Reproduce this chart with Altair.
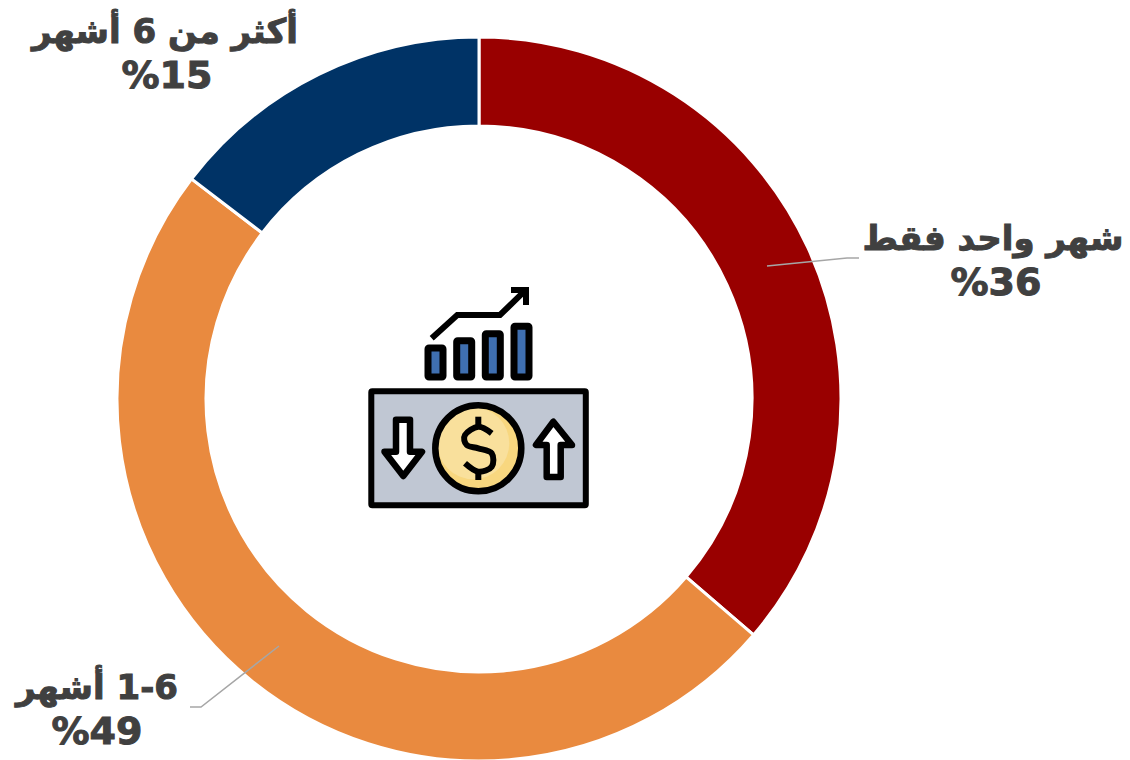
import altair as alt
import pandas as pd

# ---- chart values ----
categories = ["شهر واحد فقط", "\u200f1-6 أشهر", "أكثر من 6 أشهر"]
shares = [36.3, 49.1, 14.6]
share_labels = ["%36", "%49", "%15"]
colors = ["#990000", "#E98A3F", "#003366"]
label_x = [993, 97, 165]
label_y1 = [250, 699, 43]
label_x2 = [996, 97, 167]
label_y2 = [295, 744, 88]

# leader lines
leader_id = [0, 0, 0, 1, 1, 1]
leader_x = [767, 847, 859, 279, 201, 190]
leader_y = [266, 258, 258, 646, 707, 707]

# icon parts
bill_x, bill_x2, bill_y, bill_y2 = [371.3], [585.8], [391.3], [505.3]
bar_x = [428, 456.7, 485.3, 514]
bar_x2 = [443, 471.7, 500.3, 529]
bar_top = [348, 340.7, 333.7, 326.3]
bar_bottom = [377, 377, 377, 377]
trend_x = [431.7, 457.3, 500, 525]
trend_y = [338.3, 315, 315, 290.7]
head_x = [511, 526, 526]
head_y = [290, 290, 305]
down_y = [419.7, 451.7, 451.8, 476]
down_x = [396, 396, 384.5, 403.3]
down_x2 = [410, 410, 422, 403.3]
up_y = [421.7, 445, 445.1, 477]
up_x = [553.3, 536, 546.7, 546.7]
up_x2 = [553.3, 572, 560.7, 560.7]
dollar_x = [491.7, 478.3, 465, 466.7, 478.3, 491.7, 491.7, 478.3, 465]
dollar_y = [433.3, 426.7, 435, 445, 448.3, 453.3, 466.7, 471.7, 463.3]
tick_x = [478.3, 478.3]
tick_top = [416.7, 471.7]
tick_bottom = [426.7, 480]

X = alt.X("x:Q", scale=alt.Scale(domain=[8, 1122], range=[0, 1114]), axis=None)
Y = alt.Y("y:Q", scale=alt.Scale(domain=[8, 760], range=[0, 752]), axis=None)
X2 = alt.X2("x2:Q")
Y2 = alt.Y2("y2:Q")
FONT = "DejaVu Sans"

donut_df = pd.DataFrame({"cat": categories, "share": shares, "color": colors, "i": range(3),
                         "x": [479] * 3, "y": [399] * 3})
donut = alt.Chart(donut_df).mark_arc(radius=362, radius2=273, stroke="white", strokeWidth=3).encode(
    x=X, y=Y,
    theta=alt.Theta("share:Q", stack=True),
    order=alt.Order("i:Q"),
    color=alt.Color("color:N", scale=None),
)

leaders = alt.Chart(pd.DataFrame({"id": leader_id, "x": leader_x, "y": leader_y, "o": range(6)})).mark_line(
    color="#A6A6A6", strokeWidth=1.5).encode(x=X, y=Y, detail="id:N", order="o:Q")

cat_text = alt.Chart(pd.DataFrame({"t": categories, "x": label_x, "y": label_y1})).mark_text(
    font=FONT, fontSize=34, fontWeight="bold", color="#404040", stroke="#404040", strokeWidth=1.0,
    align="center", baseline="alphabetic").encode(x=X, y=Y, text="t:N")
pct_text = alt.Chart(pd.DataFrame({"t": share_labels, "x": label_x2, "y": label_y2})).mark_text(
    font=FONT, fontSize=38, fontWeight="bold", color="#404040", stroke="#404040", strokeWidth=1.0,
    align="center", baseline="alphabetic").encode(x=X, y=Y, text="t:N")

bill = alt.Chart(pd.DataFrame({"x": bill_x, "x2": bill_x2, "y": bill_y, "y2": bill_y2})).mark_rect(
    fill="#C0C7D3", stroke="black", strokeWidth=6, cornerRadius=1).encode(x=X, x2=X2, y=Y, y2=Y2)
bars = alt.Chart(pd.DataFrame({"x": bar_x, "x2": bar_x2, "y": bar_top, "y2": bar_bottom})).mark_rect(
    fill="#3F6FB0", stroke="black", strokeWidth=7, cornerRadius=1).encode(x=X, x2=X2, y=Y, y2=Y2)


def stroke_line(xs, ys, width=5, interpolate="linear"):
    df = pd.DataFrame({"x": xs, "y": ys, "o": range(len(xs))})
    return alt.Chart(df).mark_line(color="black", strokeWidth=width, interpolate=interpolate,
                                   strokeJoin="miter", strokeCap="butt").encode(x=X, y=Y, order="o:Q")


trend = stroke_line(trend_x, trend_y, width=6)
head = stroke_line(head_x, head_y, width=6)


def arrow(xs, xs2, ys):
    df = pd.DataFrame({"x": xs, "x2": xs2, "y": ys})
    return alt.Chart(df).mark_area(orient="horizontal", fill="white", stroke="black", strokeWidth=6.5,
                                   strokeJoin="round").encode(x=X, x2=X2, y=Y)


down = arrow(down_x, down_x2, down_y)
up = arrow(up_x, up_x2, up_y)

coin_base = alt.Chart(pd.DataFrame({"x": [478.3], "y": [448.3]})).mark_point(
    filled=True, size=7396, color="#F8D77F", opacity=1, shape="circle").encode(x=X, y=Y)
coin_light = alt.Chart(pd.DataFrame({"x": [473.3], "y": [443.3]})).mark_point(
    filled=True, size=5184, color="#F9E09C", opacity=1, shape="circle").encode(x=X, y=Y)
coin_ring = alt.Chart(pd.DataFrame({"x": [478.3], "y": [448.3]})).mark_point(
    filled=False, size=7396, color="black", strokeWidth=6.5, opacity=1, shape="circle").encode(x=X, y=Y)
dollar = stroke_line(dollar_x, dollar_y, width=6, interpolate="cardinal")
ticks = alt.Chart(pd.DataFrame({"x": tick_x, "y": tick_top, "y2": tick_bottom})).mark_rule(
    color="black", strokeWidth=6).encode(x=X, y=Y, y2=Y2)

chart = alt.layer(
    donut, leaders, cat_text, pct_text, bill, bars, trend, head, down, up,
    coin_base, coin_light, coin_ring, dollar, ticks,
).properties(
    width=1114, height=752, padding=0, autosize=alt.AutoSizeParams(type="none"),
    background="white",
).configure_view(stroke=None)

chart.save("out.html", embed_options={"renderer": "svg", "actions": False})
